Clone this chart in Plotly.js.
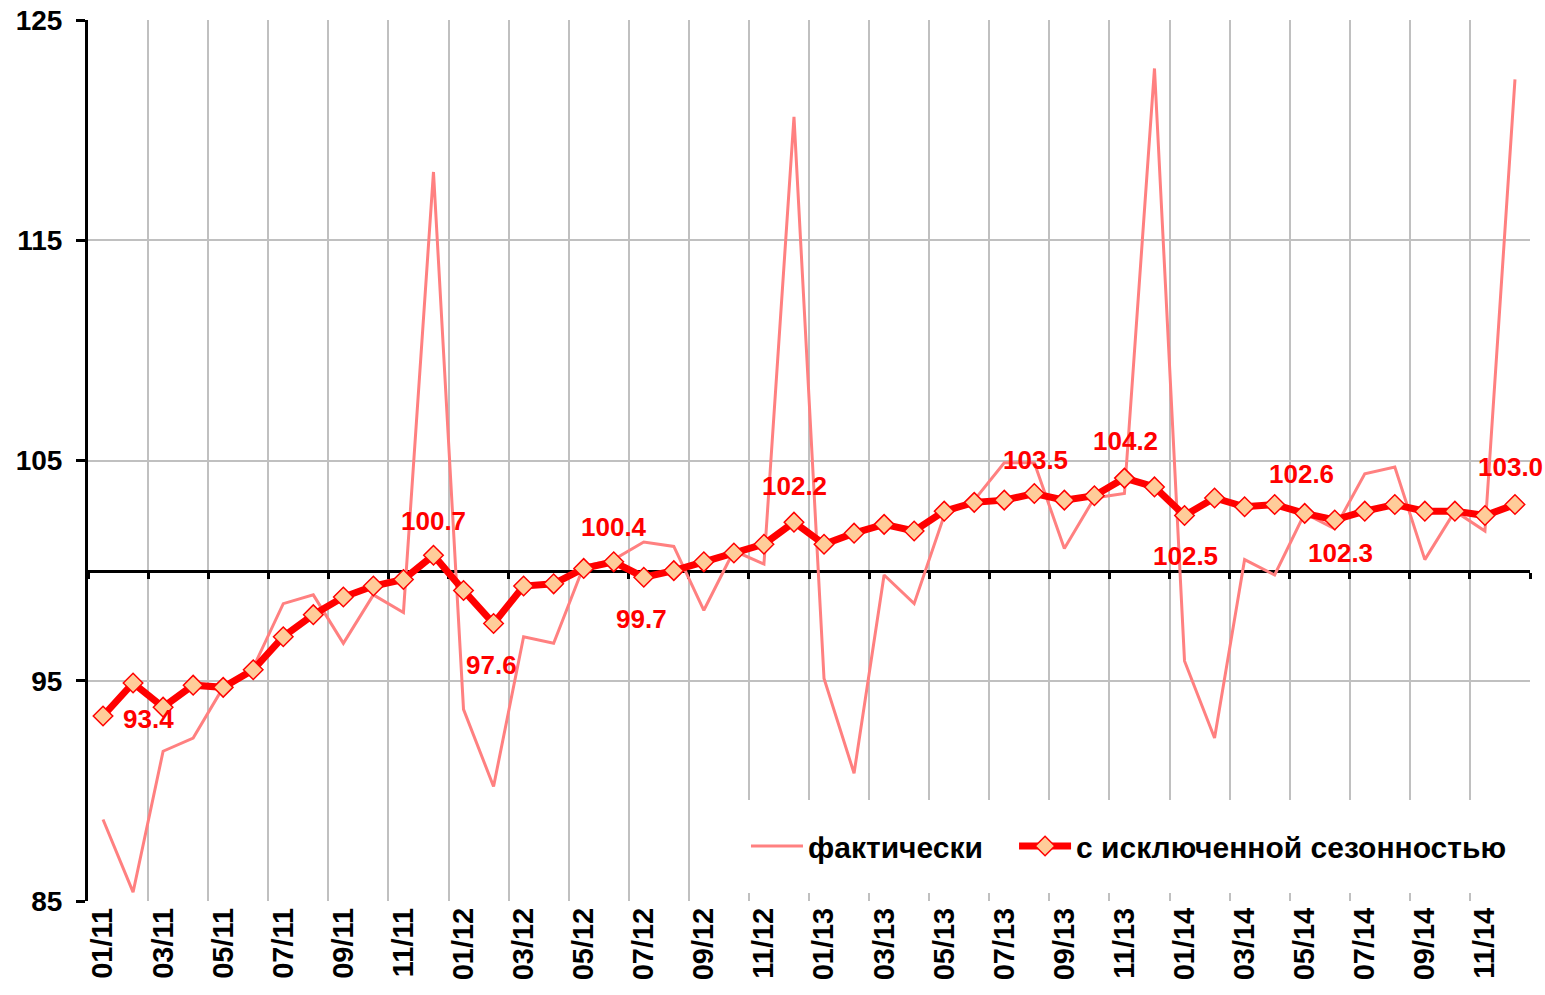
<!DOCTYPE html>
<html>
<head>
<meta charset="utf-8">
<script src="https://cdn.plot.ly/plotly-3.0.1.min.js"></script>
<style>
  html, body { margin: 0; padding: 0; background: #ffffff; }
  #chart { width: 1545px; height: 995px; }
</style>
</head>
<body>
<div id="chart"></div>
<script>
// ---- data ----
const months = [
  "01/11","02/11","03/11","04/11","05/11","06/11","07/11","08/11","09/11","10/11","11/11","12/11",
  "01/12","02/12","03/12","04/12","05/12","06/12","07/12","08/12","09/12","10/12","11/12","12/12",
  "01/13","02/13","03/13","04/13","05/13","06/13","07/13","08/13","09/13","10/13","11/13","12/13",
  "01/14","02/14","03/14","04/14","05/14","06/14","07/14","08/14","09/14","10/14","11/14","12/14"
];
const actual = [
  88.7, 85.4, 91.8, 92.4, 94.7, 95.6, 98.5, 98.9, 96.7, 98.9, 98.1, 118.1,
  93.7, 90.2, 97.0, 96.7, 100.2, 100.5, 101.3, 101.1, 98.2, 100.9, 100.3, 120.6,
  95.1, 90.8, 99.8, 98.5, 102.5, 103.2, 104.9, 104.9, 101.0, 103.3, 103.5, 122.8,
  95.9, 92.4, 100.5, 99.8, 102.6, 101.9, 104.4, 104.7, 100.5, 102.7, 101.8, 122.3
];
const adjusted = [
  93.4, 94.9, 93.8, 94.8, 94.7, 95.5, 97.0, 98.0, 98.8, 99.3, 99.6, 100.7,
  99.1, 97.6, 99.3, 99.4, 100.1, 100.4, 99.7, 100.0, 100.4, 100.8, 101.2, 102.2,
  101.2, 101.7, 102.1, 101.8, 102.7, 103.1, 103.2, 103.5, 103.2, 103.4, 104.2, 103.8,
  102.5, 103.3, 102.9, 103.0, 102.6, 102.3, 102.7, 103.0, 102.7, 102.7, 102.5, 103.0
];
const seriesNames = ["фактически", "с исключенной сезонностью"];
const labelledMonths = ["01/11","12/11","02/12","06/12","07/12","12/12","08/13","11/13","01/14","05/14","06/14","12/14"];
const yTicks = [85, 95, 105, 115, 125];

// ---- presentation ----
const FONT = "Liberation Sans, Arial, sans-serif";
const idx = months.map((m, i) => i);
const labelShift = {   // pixel offsets of value labels from their points
  "01/11": [45, -3], "12/11": [0, 34], "02/12": [-2, -42], "06/12": [0, 35],
  "07/12": [-2, -42], "12/12": [1, 36], "08/13": [1, 34], "11/13": [1, 37],
  "01/14": [1, -40], "05/14": [-3, 39], "06/14": [6, -33], "12/14": [-4, 38]
};

const traces = [
  {
    x: idx, y: actual, name: seriesNames[0], type: "scatter", mode: "lines",
    line: { color: "#FF8080", width: 3 }, hoverinfo: "skip", legend: "legend"
  },
  {
    x: idx, y: adjusted, name: seriesNames[1], type: "scatter", mode: "lines+markers",
    line: { color: "#FF0000", width: 7 },
    marker: { symbol: "diamond", size: 15, color: "#FFCC99", line: { color: "#FF0000", width: 1.5 } },
    hoverinfo: "skip", legend: "legend2"
  },
  { // carrier for the axis drawn through 100
    x: idx, y: idx.map(() => null), xaxis: "x2", yaxis: "y", type: "scatter", mode: "lines",
    showlegend: false, hoverinfo: "skip"
  }
];

const annotations = labelledMonths.map(m => {
  const i = months.indexOf(m);
  return {
    x: i, y: adjusted[i], xref: "x", yref: "y", text: adjusted[i].toFixed(1),
    showarrow: false, xshift: labelShift[m][0], yshift: labelShift[m][1],
    font: { family: FONT, size: 26, color: "#FF0000", weight: "bold" }
  };
});

const labelTickVals = idx.filter(i => i % 2 === 0);
const labelTickText = labelTickVals.map(i => months[i]);

const legendFont = { family: FONT, size: 30, color: "#000000", weight: "bold" };

const layout = {
  width: 1545, height: 995,
  margin: { l: 88, r: 15, t: 20, b: 94 },
  paper_bgcolor: "#ffffff", plot_bgcolor: "#ffffff",
  font: { family: FONT, color: "#000000" },
  showlegend: true,
  legend: {
    orientation: "h", x: 0.4563, xanchor: "left", y: 0.0624, yanchor: "middle",
    bgcolor: "rgba(0,0,0,0)", font: legendFont, itemwidth: 52
  },
  legend2: {
    orientation: "h", x: 0.6422, xanchor: "left", y: 0.0624, yanchor: "middle",
    bgcolor: "rgba(0,0,0,0)", font: legendFont, itemwidth: 52
  },
  xaxis: {
    range: [-0.5, 47.5], tickmode: "array", tickvals: labelTickVals, ticktext: labelTickText,
    tickangle: -90, ticks: "", showgrid: false, showline: false, zeroline: false,
    tickfont: { family: FONT, size: 29, color: "#000000", weight: "bold" },
    fixedrange: true
  },
  xaxis2: {
    overlaying: "x", matches: "x", anchor: "free", position: 0.375,
    tickmode: "linear", tick0: -0.5, dtick: 2, showticklabels: false,
    showline: true, linecolor: "#000000", linewidth: 3,
    ticks: "outside", ticklen: 6, tickwidth: 3, tickcolor: "#000000",
    showgrid: true, gridcolor: "#C0C0C0", gridwidth: 2, zeroline: false,
    layer: "below traces"
  },
  yaxis: {
    range: [85, 125], tickmode: "array", tickvals: yTicks,
    showgrid: true, gridcolor: "#C0C0C0", gridwidth: 2, zeroline: false,
    showline: true, linecolor: "#000000", linewidth: 3,
    ticks: "outside", ticklen: 9, tickwidth: 3, tickcolor: "#000000",
    ticklabelstandoff: 8,
    tickfont: { family: FONT, size: 28, color: "#000000", weight: "bold" },
    fixedrange: true
  },
  shapes: [
    { type: "rect", xref: "paper", yref: "paper", x0: 0.4556, x1: 0.9993, y0: 0.009, y1: 0.1146,
      fillcolor: "#ffffff", line: { width: 0 }, layer: "above" }
  ],
  annotations: annotations
};

Plotly.newPlot("chart", traces, layout, { displayModeBar: false, staticPlot: true });
</script>
</body>
</html>
